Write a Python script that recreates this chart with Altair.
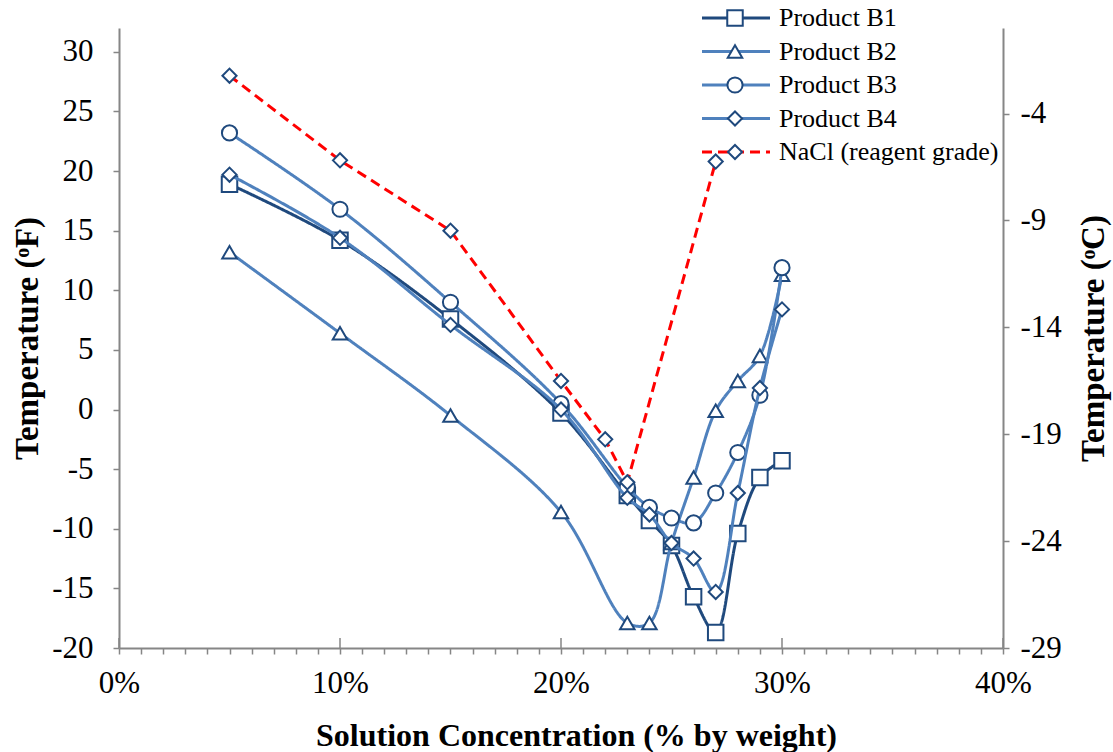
import altair as alt
import pandas as pd

# Solution concentration (fraction by weight) for the B products
conc_b = [0.05, 0.10, 0.15, 0.20, 0.23, 0.24, 0.25, 0.26, 0.27, 0.28, 0.29, 0.30]
# Freezing temperature, degrees F
product_b1 = [18.9, 14.2, 7.6, -0.3, -7.2, -9.3, -11.4, -15.7, -18.7, -10.4, -5.7, -4.3]
product_b2 = [13.2, 6.4, -0.5, -8.6, -17.9, -17.9, -11.2, -5.7, -0.1, 2.4, 4.5, 11.3]
product_b3 = [23.2, 16.8, 9.0, 0.5, -6.5, -8.2, -9.1, -9.5, -7.0, -3.6, 1.2, 11.9]
product_b4 = [19.7, 14.4, 7.1, 0.0, -7.4, -8.8, -11.2, -12.5, -15.3, -7.0, 1.8, 8.4]

# Reagent-grade sodium chloride
conc_nacl = [0.05, 0.10, 0.15, 0.20, 0.22, 0.23, 0.27]
temp_nacl = [28.0, 20.9, 15.0, 2.4, -2.5, -6.1, 20.8]

series_names = ["Product B1", "Product B2", "Product B3", "Product B4", "NaCl (reagent grade)"]

# Styling per series
DARK = "#1F497D"
MID = "#4F81BD"
styles = {
    "Product B1": dict(line=DARK, shape="square", size=240, interp="catmull-rom", dash=[1, 0]),
    "Product B2": dict(line=MID, shape="triangle-up", size=210, interp="catmull-rom", dash=[1, 0]),
    "Product B3": dict(line=MID, shape="circle", size=230, interp="catmull-rom", dash=[1, 0]),
    "Product B4": dict(line=MID, shape="diamond", size=200, interp="catmull-rom", dash=[1, 0]),
    "NaCl (reagent grade)": dict(line="#FF0000", shape="diamond", size=200, interp="linear", dash=[10, 6]),
}

series_data = {
    "Product B1": (conc_b, product_b1),
    "Product B2": (conc_b, product_b2),
    "Product B3": (conc_b, product_b3),
    "Product B4": (conc_b, product_b4),
    "NaCl (reagent grade)": (conc_nacl, temp_nacl),
}

FONT = "Liberation Serif"
AXIS_GRAY = "#868686"
W, H = 884, 620

x_scale = alt.Scale(domain=[0, 0.40], nice=False, zero=False)
y_scale_f = alt.Scale(domain=[-20, 32], nice=False, zero=False)

x_ticks = [round(i * 0.01, 2) for i in range(41)]

x_axis = alt.Axis(
    values=x_ticks,
    labelExpr="round(datum.value*100) % 10 === 0 ? format(datum.value, '.0%') : ''",
    labelOverlap=False,
    labelFlush=False,
    grid=False,
    tickSize=6,
    tickColor=AXIS_GRAY,
    tickWidth=1.5,
    domainColor=AXIS_GRAY,
    domainWidth=2,
    labelFont=FONT,
    labelFontSize=31,
    labelColor="black",
    labelPadding=14,
    title="Solution Concentration (% by weight)",
    titleFont=FONT,
    titleFontSize=32,
    titleFontWeight="bold",
    titleColor="black",
    titlePadding=22,
    titleX=457,
    orient="bottom",
)

y_axis_left = alt.Axis(
    values=[-20, -15, -10, -5, 0, 5, 10, 15, 20, 25, 30],
    labelExpr="'' + datum.value",
    grid=False,
    tickSize=6,
    tickColor=AXIS_GRAY,
    tickWidth=1.5,
    domainColor=AXIS_GRAY,
    domainWidth=2,
    labelFont=FONT,
    labelFontSize=31,
    labelColor="black",
    labelPadding=20,
    title="Temperature (ᵒF)",
    titleFont=FONT,
    titleFontSize=33,
    titleFontWeight="bold",
    titleColor="black",
    titlePadding=7,
    orient="left",
)

X_ENC = alt.X("conc:Q", scale=x_scale, axis=x_axis)
Y_ENC = alt.Y("temp:Q", scale=y_scale_f, axis=y_axis_left)

layers = []
for name in series_names:
    xs, ys = series_data[name]
    st = styles[name]
    df = pd.DataFrame({"conc": xs, "temp": ys, "series": name})
    base = alt.Chart(df)
    line = base.mark_line(
        interpolate=st["interp"],
        color=st["line"],
        strokeWidth=3,
        strokeDash=st["dash"],
    ).encode(x=X_ENC, y=Y_ENC)
    pts = base.mark_point(
        shape=st["shape"],
        size=st["size"],
        fill="white",
        fillOpacity=1,
        stroke=DARK,
        strokeWidth=2,
        opacity=1,
    ).encode(x=X_ENC, y=Y_ENC)
    layers += [line, pts]

# Major ticks on the concentration axis cross up into the plot
major_df = pd.DataFrame({"conc": [0.0, 0.10, 0.20, 0.30, 0.40]})
major_ticks = alt.Chart(major_df).mark_rule(color=AXIS_GRAY, strokeWidth=1.5).encode(
    x=X_ENC,
    y=alt.value(H - 10),
    y2=alt.value(H),
)
layers.append(major_ticks)

data_layer = alt.layer(*layers)

# Secondary axis in degrees C
right_ticks = [-29, -24, -19, -14, -9, -4]
right_df = pd.DataFrame({"degc": right_ticks})
right_axis_layer = alt.Chart(right_df).mark_point(opacity=0).encode(
    y=alt.Y(
        "degc:Q",
        scale=alt.Scale(domain=[-29, 0], nice=False, zero=False),
        axis=alt.Axis(
            orient="right",
            values=right_ticks,
            labelExpr="'' + datum.value",
            grid=False,
            tickSize=6,
            tickColor=AXIS_GRAY,
            tickWidth=1.5,
            domainColor=AXIS_GRAY,
            domainWidth=2,
            labelFont=FONT,
            labelFontSize=31,
            labelColor="black",
            labelPadding=11,
            title="Temperature (ᵒC)",
            titleFont=FONT,
            titleFontSize=33,
            titleFontWeight="bold",
            titleColor="black",
            titleAngle=270,
            titleBaseline="top",
            titlePadding=16,
        ),
    ),
)

# Legend in the upper right
legend_df = pd.DataFrame({"series": series_names, "row": list(range(len(series_names)))})
legend_y = alt.Y("row:Q", scale=alt.Scale(domain=[0, 4], range=[-10, 124]), axis=None)
legend_layers = []
for name in series_names:
    st = styles[name]
    sub = alt.Chart(legend_df).transform_filter(alt.datum.series == name)
    legend_layers.append(
        sub.mark_rule(color=st["line"], strokeWidth=3, strokeDash=st["dash"]).encode(
            x=alt.value(583), x2=alt.value(651), y=legend_y
        )
    )
    legend_layers.append(
        sub.mark_point(
            shape=st["shape"], size=st["size"], fill="white", fillOpacity=1,
            stroke=DARK, strokeWidth=2, opacity=1,
        ).encode(x=alt.value(616), y=legend_y)
    )
legend_layers.append(
    alt.Chart(legend_df).mark_text(
        font=FONT, fontSize=26, color="black", align="left", baseline="middle"
    ).encode(x=alt.value(660), y=legend_y, text="series:N")
)
legend_layer = alt.layer(*legend_layers)

chart = (
    alt.layer(data_layer, right_axis_layer, legend_layer)
    .resolve_scale(y="independent")
    .properties(
        width=W,
        height=H,
        autosize=alt.AutoSizeParams(type="none"),
        padding={"left": 119, "top": 28, "right": 110, "bottom": 104},
        background="white",
    )
    .configure_view(stroke=None)
)

chart.save("out.html", embed_options={"renderer": "svg", "actions": False})
